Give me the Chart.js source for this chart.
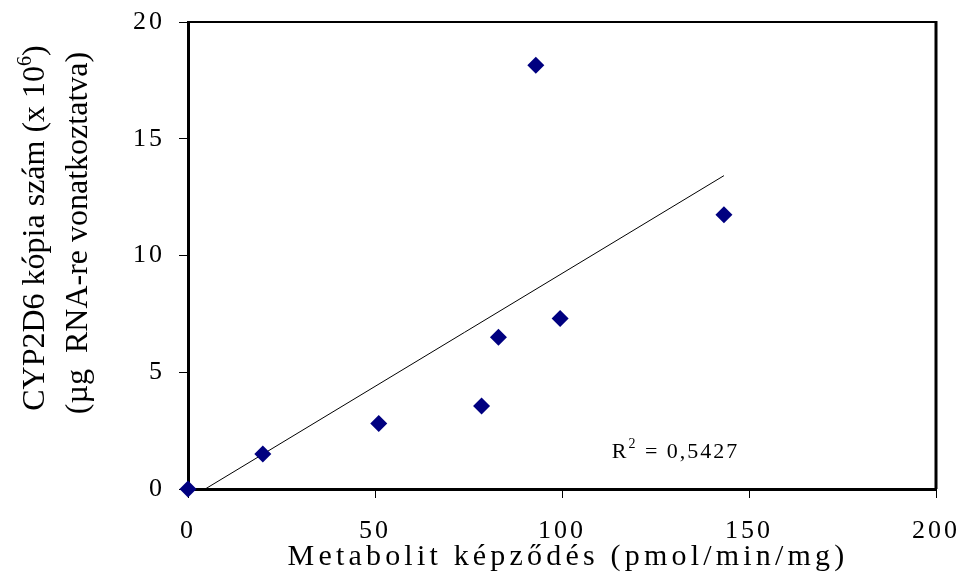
<!DOCTYPE html>
<html>
<head>
<meta charset="utf-8">
<script src="https://cdn.jsdelivr.net/npm/chart.js@4"></script>
<style>
  html, body { margin: 0; padding: 0; background: #fff; }
  #wrap { width: 963px; height: 575px; }
</style>
</head>
<body>
<div id="wrap"><canvas id="chart-cyp"></canvas></div>
<script>
// values
const metabolit = [0, 20, 51, 78.5, 83, 93, 99.5, 143.3];
const kopia     = [0, 1.5, 2.8, 3.55, 6.5, 18.15, 7.3, 11.75];
const trendX    = [4.6, 143.3];
const trendY    = [0, 13.42];
const xTicks    = [0, 50, 100, 150, 200];
const yTicks    = [0, 5, 10, 15, 20];
const r2Text    = '0,5427';
const r2Pos     = [113.3, 1.33];

const SERIF = "'Liberation Serif', 'Times New Roman', serif";
const NAVY  = '#000080';

Chart.defaults.font.family = SERIF;
Chart.defaults.color = '#000';

const frame = {
  id: 'frame',
  beforeDraw(chart) {
    chart.ctx.letterSpacing = '3px';
  },
  afterDraw(chart) {
    const { ctx, chartArea: a, scales } = chart;
    ctx.save();
    ctx.letterSpacing = '0px';
    ctx.strokeStyle = '#000';
    ctx.lineWidth = 2;
    ctx.beginPath();
    ctx.moveTo(a.left, a.top);
    ctx.lineTo(a.right, a.top);
    ctx.stroke();
    ctx.lineWidth = 3;
    ctx.beginPath();
    ctx.moveTo(a.right, a.top - 1);
    ctx.lineTo(a.right, a.bottom);
    ctx.stroke();

    ctx.fillStyle = '#000';
    ctx.textBaseline = 'alphabetic';

    // x title
    ctx.letterSpacing = '4.2px';
    ctx.font = '30px ' + SERIF;
    ctx.textAlign = 'center';
    ctx.fillText('Metabolit képződés (pmol/min/mg)', (a.left + a.right) / 2 + 6, 565);

    // y title, two lines, rotated, with superscript 6
    ctx.letterSpacing = '0px';
    ctx.translate(0, 228);
    ctx.rotate(-Math.PI / 2);
    ctx.textAlign = 'left';
    const l1a = 'CYP2D6 kópia szám (x 10', sup = '6', l1b = ')';
    ctx.font = '32px ' + SERIF;
    const wa = ctx.measureText(l1a).width, wb = ctx.measureText(l1b).width;
    ctx.font = '20px ' + SERIF;
    const ws = ctx.measureText(sup).width;
    const sx = -(wa + ws + wb) / 2;
    ctx.font = '32px ' + SERIF;
    ctx.fillText(l1a, sx, 44);
    ctx.font = '20px ' + SERIF;
    ctx.fillText(sup, sx + wa, 31);
    ctx.font = '32px ' + SERIF;
    ctx.fillText(l1b, sx + wa + ws, 44);
    ctx.textAlign = 'center';
    ctx.fillText('(µg  RNA-re vonatkoztatva)', -5, 87);
    ctx.restore();

    // R² label
    ctx.save();
    const px = scales.x.getPixelForValue(r2Pos[0]);
    const py = scales.y.getPixelForValue(r2Pos[1]);
    ctx.fillStyle = '#000';
    ctx.letterSpacing = '2px';
    ctx.textAlign = 'left';
    ctx.font = '22px ' + SERIF;
    ctx.fillText('R', px, py);
    let w = ctx.measureText('R').width;
    ctx.font = '14px ' + SERIF;
    ctx.fillText('2', px + w, py - 10);
    w += ctx.measureText('2').width;
    ctx.font = '22px ' + SERIF;
    ctx.fillText(' = ' + r2Text, px + w, py);
    ctx.restore();
  },
};

const ctx = document.getElementById('chart-cyp').getContext('2d');
new Chart(ctx, {
  type: 'scatter',
  data: {
    datasets: [
      {
        label: 'CYP2D6',
        data: metabolit.map((x, i) => ({ x, y: kopia[i] })),
        backgroundColor: NAVY,
        borderColor: NAVY,
        pointStyle: 'rectRot',
        pointRadius: 8.5,
        pointHoverRadius: 8.5,
        borderWidth: 0,
        clip: false,
      },
      {
        type: 'line',
        label: 'trend',
        data: trendX.map((x, i) => ({ x, y: trendY[i] })),
        borderColor: '#000',
        borderWidth: 1,
        pointRadius: 0,
        fill: false,
      },
    ],
  },
  options: {
    responsive: true,
    maintainAspectRatio: false,
    animation: false,
    events: [],
    layout: { padding: { left: 0, top: 22, right: 27, bottom: 0 } },
    plugins: { legend: { display: false }, tooltip: { enabled: false } },
    scales: {
      x: {
        type: 'linear',
        min: 0, max: 200,
        afterBuildTicks: s => { s.ticks = xTicks.map(v => ({ value: v })); },
        afterFit: s => { s.height = 86; s.paddingLeft = 0; s.paddingRight = 0; },
        ticks: { font: { size: 26 }, color: '#000', padding: 18, maxRotation: 0 },
        grid: { drawOnChartArea: false, drawTicks: true, tickLength: 9, tickColor: '#000', tickWidth: 1 },
        border: { color: '#000', width: 3 },
      },
      y: {
        type: 'linear',
        min: 0, max: 20,
        afterBuildTicks: s => { s.ticks = yTicks.map(v => ({ value: v })); },
        afterFit: s => { s.width = 188; s.paddingTop = 0; s.paddingBottom = 0; },
        ticks: { font: { size: 26 }, color: '#000', padding: 14 },
        grid: { drawOnChartArea: false, drawTicks: true, tickLength: 9, tickColor: '#000', tickWidth: 1 },
        border: { color: '#000', width: 3 },
      },
    },
  },
  plugins: [frame],
});
</script>
</body>
</html>
